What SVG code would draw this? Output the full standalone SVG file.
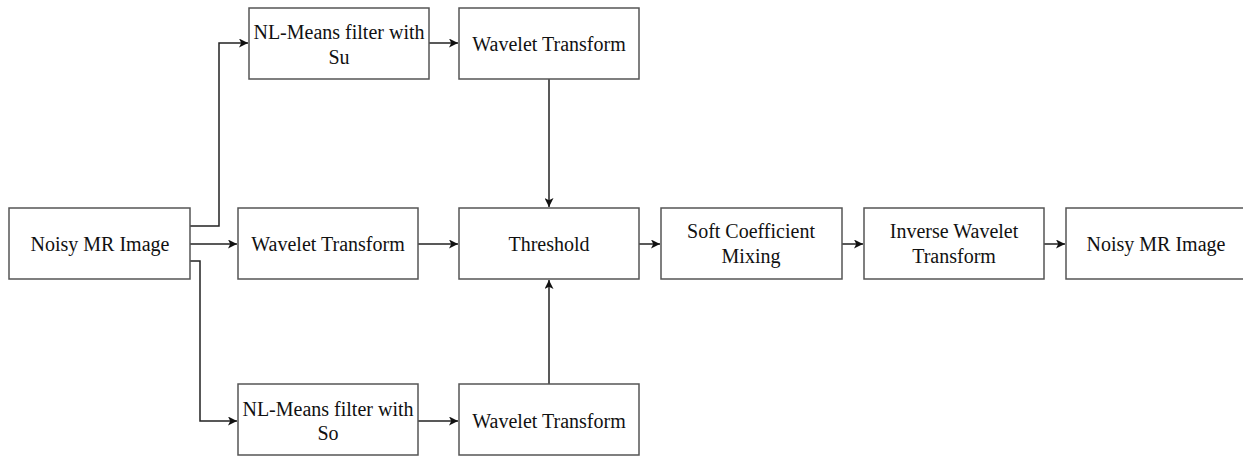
<svg xmlns="http://www.w3.org/2000/svg" width="1243" height="456" viewBox="0 0 1243 456">
<style>
.box{fill:#fff;stroke:#555;stroke-width:1.5}
.t{font-family:"Liberation Serif","Times New Roman",serif;font-size:20px;fill:#111;text-anchor:middle;dominant-baseline:central}
.c{fill:none;stroke:#222;stroke-width:1.5}
</style>
<defs>
<marker id="ah" viewBox="0 0 10 10" refX="10" refY="5" markerWidth="9" markerHeight="9" markerUnits="userSpaceOnUse" orient="auto">
<path d="M0,0 L10,5 L0,10 L2.5,5 Z" fill="#111"/>
</marker>
</defs>
<rect width="1243" height="456" fill="#fff"/>
<g id="connectors">
<path class="c" d="M190,226 H219 V43 H248" marker-end="url(#ah)"/>
<path class="c" d="M190,244 H237" marker-end="url(#ah)"/>
<path class="c" d="M190,261 H200 V421 H237" marker-end="url(#ah)"/>
<path class="c" d="M429,43 H458" marker-end="url(#ah)"/>
<path class="c" d="M418,244 H458" marker-end="url(#ah)"/>
<path class="c" d="M418,421 H458" marker-end="url(#ah)"/>
<path class="c" d="M549,79 V207" marker-end="url(#ah)"/>
<path class="c" d="M549,384 V280" marker-end="url(#ah)"/>
<path class="c" d="M639,244 H660" marker-end="url(#ah)"/>
<path class="c" d="M842,244 H863" marker-end="url(#ah)"/>
<path class="c" d="M1044,244 H1065" marker-end="url(#ah)"/>
</g>
<g id="noisy-in"><rect class="box" x="9" y="208" width="181" height="71"/><text class="t" x="100" y="244">Noisy MR Image</text></g>
<g id="nl-su"><rect class="box" x="249" y="8" width="180" height="71"/><text class="t" x="339" y="32">NL-Means filter with</text><text class="t" x="339" y="57">Su</text></g>
<g id="wt-top"><rect class="box" x="459" y="8" width="180" height="71"/><text class="t" x="549" y="44">Wavelet Transform</text></g>
<g id="wt-mid"><rect class="box" x="238" y="208" width="180" height="71"/><text class="t" x="328" y="244">Wavelet Transform</text></g>
<g id="threshold"><rect class="box" x="459" y="208" width="180" height="71"/><text class="t" x="549" y="244">Threshold</text></g>
<g id="soft"><rect class="box" x="661" y="208" width="181" height="71"/><text class="t" x="751" y="231">Soft Coefficient</text><text class="t" x="751" y="256">Mixing</text></g>
<g id="iwt"><rect class="box" x="864" y="208" width="180" height="71"/><text class="t" x="954" y="231">Inverse Wavelet</text><text class="t" x="954" y="256">Transform</text></g>
<g id="noisy-out"><rect class="box" x="1066" y="208" width="180" height="71"/><text class="t" x="1156" y="244">Noisy MR Image</text></g>
<g id="nl-so"><rect class="box" x="238" y="384" width="180" height="71"/><text class="t" x="328" y="409">NL-Means filter with</text><text class="t" x="328" y="433">So</text></g>
<g id="wt-bot"><rect class="box" x="459" y="384" width="180" height="71"/><text class="t" x="549" y="421">Wavelet Transform</text></g>
</svg>
